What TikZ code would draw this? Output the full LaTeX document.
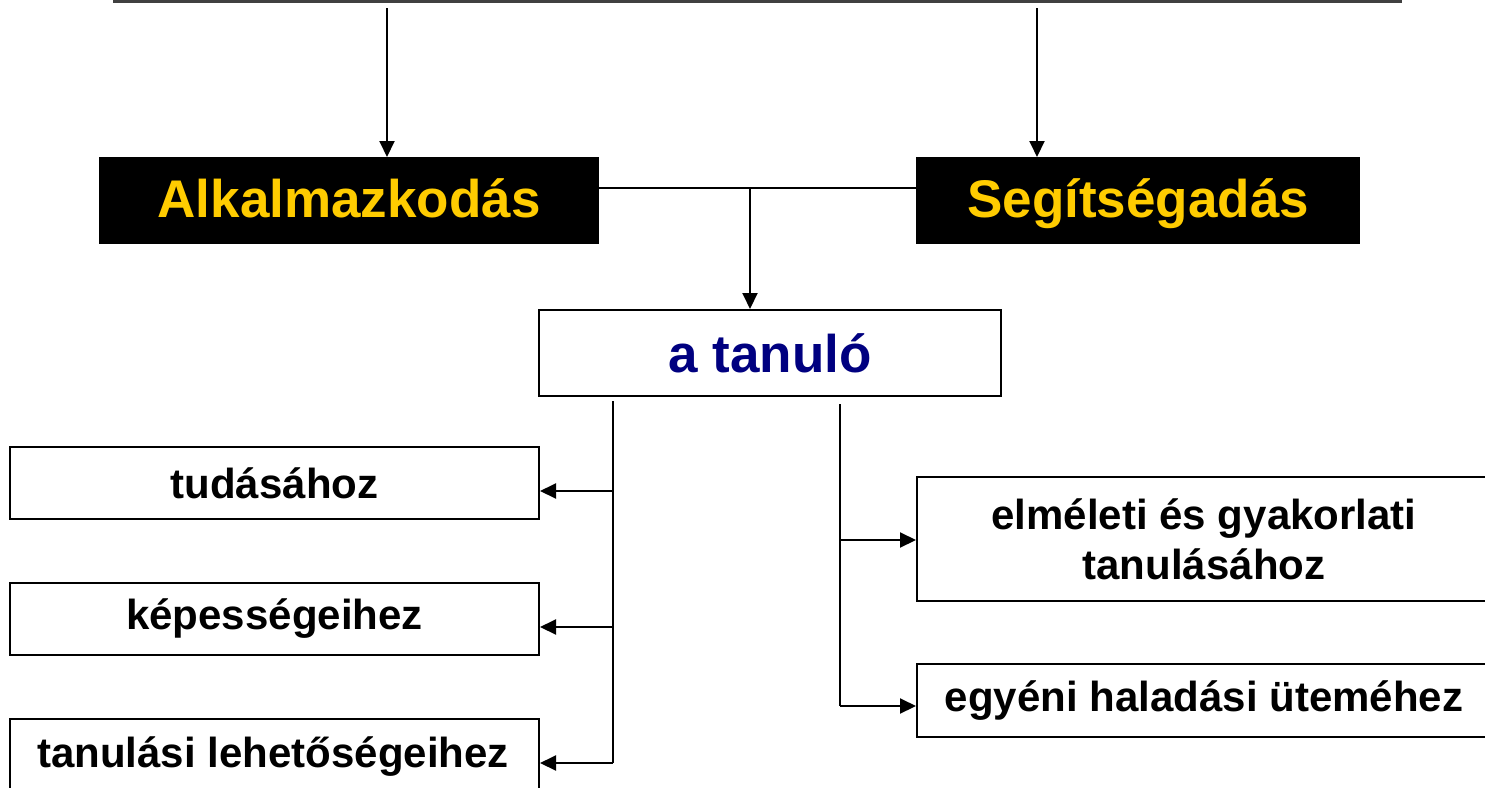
\documentclass[tikz,border=0pt]{standalone}
\usepackage{fontspec}
\setmainfont{Liberation Sans}
\usetikzlibrary{arrows.meta}
\definecolor{gold}{HTML}{FFCC00}
\definecolor{navyblue}{HTML}{000080}
\begin{document}
\begin{tikzpicture}[x=1pt,y=-1pt,
  box/.style={draw=black,line width=2pt,fill=white,inner sep=0pt,anchor=north west,align=center,font=\fontsize{42}{50}\selectfont\bfseries},
  blackbox/.style={fill=black,inner sep=0pt,anchor=north west,align=center,text=gold,font=\fontsize{53}{60}\selectfont\bfseries,text height=38pt,text depth=5pt},
  conn/.style={line width=2pt,draw=black},
  arr/.style={conn,-{Triangle[length=16pt,width=15pt]}}]
\useasboundingbox (0,0) rectangle (1485,787);
\clip (0,0) rectangle (1485,787);
% top box (cut off)
\node[draw=black!75,line width=4pt,inner sep=0pt,outer sep=0pt,anchor=south west,minimum width=1285pt,minimum height=60pt] (top) at (115,1) {};
% black boxes
\node[blackbox,minimum width=500pt,minimum height=87pt] (alk) at (99,157) {Alkalmazkodás};
\node[blackbox,minimum width=444pt,minimum height=87pt] (seg) at (916,157) {Segítségadás};
% arrows from top
\coordinate (t1) at (387,8);
\coordinate (t2) at (1037,8);
\draw[arr] (t1) -- (t1|-alk.north);
\draw[arr] (t2) -- (t2|-seg.north);
% learner box
\node[box,minimum width=462pt,minimum height=86pt,text=navyblue,font=\fontsize{53}{60}\selectfont\bfseries] (tan) at (538,309) {a tanuló};
% junction
\coordinate (jl) at (599,188);
\coordinate (jr) at (916,188);
\coordinate (jm) at (750,188);
\draw[conn] (jl) -- (jr);
\draw[arr] (jm) -- (jm|-tan.north);
% left boxes
\node[box,minimum width=529pt,minimum height=72pt] (tud) at (9,446) {tudásához};
\node[box,minimum width=529pt,minimum height=72pt] (kep) at (9,582) {képességeihez};
\node[box,minimum width=529pt,minimum height=100pt] (lehet) at (9,718) {};
\node[font=\fontsize{42}{50}\selectfont\bfseries] (lehettext) at (273,757) {tanulási lehetőségeihez};
% left bus
\coordinate (lt) at (613,401);
\coordinate (lb) at (613,763);
\coordinate (l1) at (613,491);
\coordinate (l2) at (613,627);
\draw[conn] (lt) -- (lb);
\draw[arr] (l1) -- (l1-|tud.east);
\draw[arr] (l2) -- (l2-|kep.east);
\draw[arr] (lb) -- (lb-|lehet.east);
% right boxes
\node[box,minimum width=574pt,minimum height=124pt] (elm) at (916,476) {elméleti és gyakorlati\\tanulásához};
\node[box,minimum width=574pt,minimum height=73pt] (egy) at (916,663) {egyéni haladási üteméhez};
% right bus
\coordinate (rt) at (840,404);
\coordinate (rb) at (840,706);
\coordinate (r1) at (840,540);
\draw[conn] (rt) -- (rb);
\draw[arr] (r1) -- (r1-|elm.west);
\draw[arr] (rb) -- (rb-|egy.west);
\end{tikzpicture}
\end{document}
